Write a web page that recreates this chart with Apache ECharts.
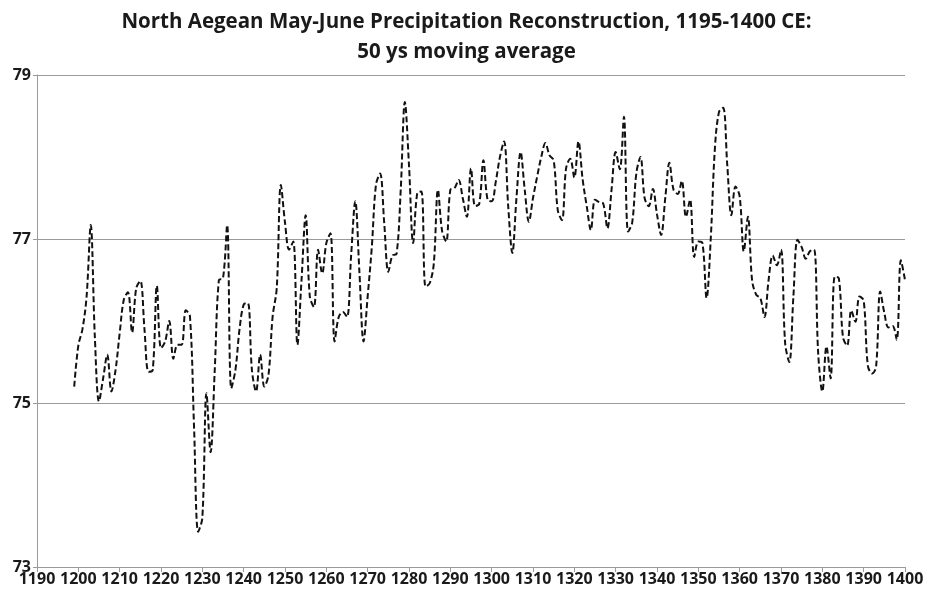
<!DOCTYPE html>
<html>
<head>
<meta charset="utf-8">
<script src="https://cdn.jsdelivr.net/npm/echarts@6/dist/echarts.min.js"></script>
<style>
  html, body { margin: 0; padding: 0; background: #fff; }
  #chart { width: 933px; height: 592px; }
</style>
</head>
<body>
<div id="chart"></div>
<script>
// 50-year moving average of reconstructed May-June precipitation, one value per year
const startYear = 1199;
const precipitation = [
  75.20, 75.70, 75.90, 76.30, 77.17, 75.80, 75.02, 75.30, 75.59, 75.14,
  75.40, 75.85, 76.26, 76.35, 75.86, 76.40, 76.49, 75.90, 75.38, 75.40,
  76.43, 75.67, 75.75, 76.00, 75.54, 75.71, 75.71, 76.13, 76.06, 74.70,
  73.43, 73.60, 75.12, 74.40, 75.40, 76.50, 76.52, 77.17, 75.18, 75.40,
  75.90, 76.20, 76.22, 75.40, 75.14, 75.59, 75.20, 75.34, 76.05, 76.40,
  77.66, 77.20, 76.87, 76.97, 75.71, 76.50, 77.29, 76.30, 76.17, 76.87,
  76.58, 76.95, 77.07, 75.75, 76.05, 76.11, 76.05, 76.80, 77.46, 76.60,
  75.75, 76.30, 76.90, 77.66, 77.80, 77.20, 76.60, 76.80, 76.82, 77.60,
  78.67, 77.90, 76.95, 77.56, 77.58, 76.42, 76.46, 76.70, 77.60, 77.10,
  76.97, 77.60, 77.62, 77.72, 77.50, 77.27, 77.86, 77.40, 77.43, 77.96,
  77.48, 77.46, 77.70, 78.00, 78.19, 77.40, 76.83, 77.50, 78.06, 77.60,
  77.21, 77.50, 77.76, 78.00, 78.17, 78.02, 77.96, 77.35, 77.23, 77.86,
  77.98, 77.75, 78.19, 77.73, 77.40, 77.11, 77.48, 77.45, 77.43, 77.13,
  77.60, 78.06, 77.85, 78.49, 77.09, 77.20, 77.80, 78.00, 77.50, 77.40,
  77.61, 77.30, 77.05, 77.50, 77.93, 77.60, 77.55, 77.71, 77.27, 77.48,
  76.78, 76.97, 76.95, 76.28, 77.00, 78.10, 78.55, 78.60, 77.90, 77.29,
  77.64, 77.52, 76.85, 77.27, 76.50, 76.32, 76.28, 76.05, 76.50, 76.80,
  76.68, 76.87, 75.73, 75.50, 76.30, 76.99, 76.90, 76.76, 76.85, 76.87,
  75.60, 75.14, 75.69, 75.30, 76.54, 76.52, 75.80, 75.70, 76.13, 75.99,
  76.30, 76.25, 75.46, 75.36, 75.44, 76.36, 76.10, 75.92, 75.94, 75.77,
  76.74, 76.50
];
const yearMin = 1190, yearMax = 1400, yearStep = 10;
const valueMin = 73, valueMax = 79, valueStep = 2;
const titleText = 'North Aegean May-June Precipitation Reconstruction, 1195-1400 CE:\n50 ys moving average';

const seriesData = precipitation.map((v, i) => [startYear + i, v]);

const chart = echarts.init(document.getElementById('chart'), null, { renderer: 'canvas' });
const labelFont = { fontFamily: 'Open Sans', fontWeight: 'bold', fontSize: 16, color: '#1a1a1a' };

chart.setOption({
  animation: false,
  backgroundColor: '#ffffff',
  title: {
    text: titleText,
    left: 'center',
    top: 2,
    textStyle: {
      fontFamily: 'Open Sans', fontWeight: 'bold', fontSize: 20.5,
      color: '#1a1a1a', lineHeight: 30
    }
  },
  grid: { left: 37, right: 28, top: 75, bottom: 25, containLabel: false },
  xAxis: {
    type: 'value',
    min: yearMin, max: yearMax, interval: yearStep,
    axisLine: { show: true, lineStyle: { color: '#9a9a9a', width: 1 } },
    axisTick: { show: true, length: 5, lineStyle: { color: '#9a9a9a' } },
    axisLabel: Object.assign({ margin: 4, formatter: v => String(v) }, labelFont),
    splitLine: { show: false }
  },
  yAxis: {
    type: 'value',
    min: valueMin, max: valueMax, interval: valueStep,
    axisLine: { show: true, lineStyle: { color: '#9a9a9a', width: 1 } },
    axisTick: { show: true, length: 4, lineStyle: { color: '#9a9a9a' } },
    axisLabel: Object.assign({ margin: 6, formatter: v => String(v) }, labelFont),
    splitLine: { show: true, lineStyle: { color: '#9a9a9a', width: 1 } }
  },
  series: [{
    type: 'line',
    data: seriesData,
    smooth: 0.35,
    symbol: 'none',
    lineStyle: { color: '#111111', width: 2, type: [6, 3] }
  }]
});
</script>
</body>
</html>
